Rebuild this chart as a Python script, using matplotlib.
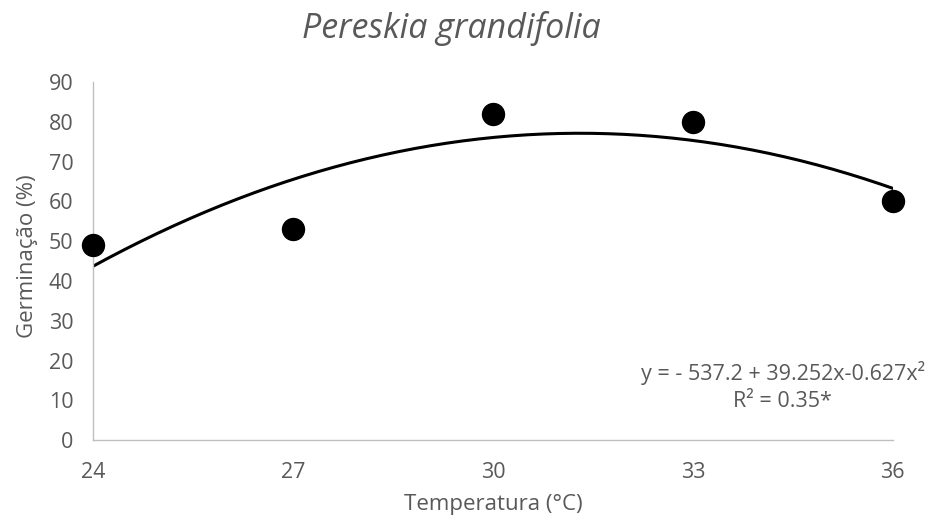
import matplotlib.pyplot as plt
import numpy as np

# Germination by temperature
temperatures = [24, 27, 30, 33, 36]
germination = [49, 53, 82, 80, 60]

# Quadratic fit: y = b0 + b1*x + b2*x^2
coef = [-537.2, 39.252, -0.627]
r2_label = 'R² = 0.35*'
eq_label = 'y = - 537.2 + 39.252x-0.627x²'

GRAY = '#595959'
plt.rcParams['font.family'] = ['Open Sans', 'DejaVu Sans']


def plot_germination():
    fig = plt.figure(figsize=(9.3, 5.24), dpi=100)
    ax = fig.add_axes([0.1, 0.16, 0.86, 0.6835])

    xs = np.linspace(temperatures[0], temperatures[-1], 200)
    ys = coef[0] + coef[1] * xs + coef[2] * xs ** 2
    ax.plot(xs, ys, color='black', linewidth=2.2, zorder=2)
    ax.scatter(temperatures, germination, s=250, color='black', zorder=3, clip_on=False)

    ax.set_xlim(24, 36)
    ax.set_ylim(0, 90)
    ax.set_xticks(temperatures)
    ax.set_yticks(range(0, 91, 10))
    ax.tick_params(length=0, labelsize=15.5, colors=GRAY)
    ax.tick_params(axis='x', pad=16)
    ax.tick_params(axis='y', pad=14)

    for side in ['top', 'right']:
        ax.spines[side].set_visible(False)
    for side in ['left', 'bottom']:
        ax.spines[side].set_color('#bfbfbf')
        ax.spines[side].set_linewidth(1)

    ax.set_xlabel('Temperatura (°C)', fontsize=16, color=GRAY, labelpad=8)
    ax.set_ylabel('Germinação (%)', fontsize=16, color=GRAY)
    ax.yaxis.set_label_coords(-0.069, 0.515)
    fig.text(0.485, 0.945, 'Pereskia grandifolia', fontsize=24.5, style='italic',
             color=GRAY, ha='center', va='center')

    # fitted equation and R² in the lower right corner
    ax.text(0.8625, 0.187, eq_label, transform=ax.transAxes,
            fontsize=15.5, color=GRAY, ha='center', va='center')
    ax.text(0.8625, 0.109, r2_label, transform=ax.transAxes,
            fontsize=15.5, color=GRAY, ha='center', va='center')

    plt.savefig('out.png', dpi=100)
    plt.close()


if __name__ == "__main__":
    plot_germination()
